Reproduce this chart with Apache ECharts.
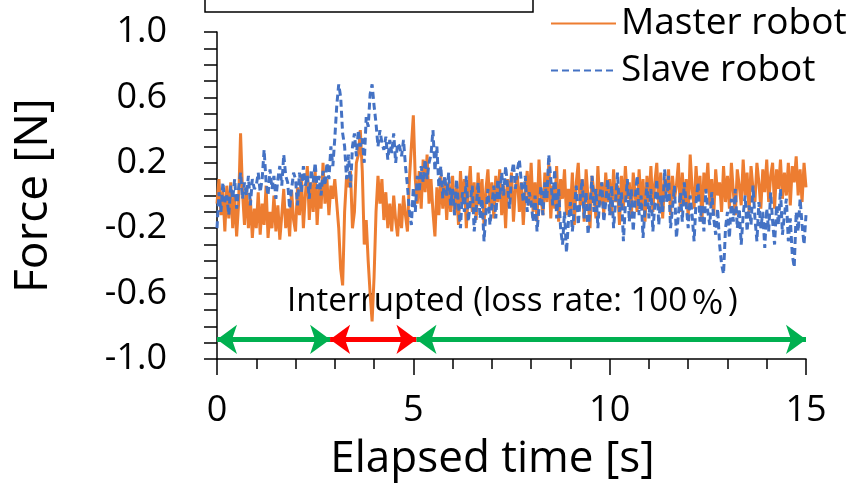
<!DOCTYPE html>
<html>
<head>
<meta charset="utf-8">
<script src="https://cdn.jsdelivr.net/npm/echarts@6/dist/echarts.min.js"></script>
<style>
  html, body { margin: 0; padding: 0; background: #fff; }
  #chart { width: 846px; height: 486px; }
</style>
</head>
<body>
<div id="chart"></div>
<script>
// both force signals are sampled every 0.05 s, one row = one second
var sampleStep = 0.05;

var masterForce = [
  -0.05, 0.10, -0.12, 0.03, -0.22, 0.06, -0.14, 0.08, -0.20, 0.00, -0.25, -0.05, 0.38, 0.02, -0.18, 0.05, -0.20, -0.02, -0.26, -0.08,
  -0.20, 0.02, -0.24, -0.05, -0.18, 0.06, -0.26, -0.10, -0.20, 0.00, -0.22, -0.06, -0.27, -0.12, 0.04, -0.20, -0.08, -0.25, 0.03, -0.15,
  -0.22, 0.05, -0.12, 0.12, -0.20, 0.00, 0.18, -0.15, 0.08, -0.10, 0.15, -0.18, 0.05, -0.08, 0.20, -0.05, 0.10, -0.12, 0.06, -0.02,
  0.10, -0.05, -0.20, -0.45, -0.55, -0.10, 0.12, 0.05, 0.15, -0.20, -0.10, 0.20, 0.25, 0.40, 0.15, -0.30, -0.15, -0.40, -0.60, -0.77,
  -0.50, -0.10, 0.12, -0.05, 0.10, -0.15, 0.02, -0.20, -0.05, -0.22, 0.00, -0.15, -0.25, -0.05, -0.20, 0.00, -0.12, -0.22, 0.10, 0.30,
  0.49, 0.10, -0.05, 0.15, -0.08, 0.22, 0.02, 0.25, -0.05, 0.10, -0.10, -0.25, 0.05, -0.12, 0.12, -0.08, 0.10, -0.15, 0.08, -0.10,
  0.12, -0.12, 0.05, -0.18, 0.15, -0.05, 0.10, -0.20, 0.02, 0.18, -0.10, 0.08, -0.15, 0.14, -0.06, 0.10, -0.18, 0.04, 0.16, -0.08,
  0.08, -0.14, 0.12, -0.04, 0.16, -0.12, 0.06, -0.20, 0.10, -0.02, 0.14, -0.16, 0.04, 0.12, -0.10, 0.08, -0.18, 0.02, 0.15, -0.06,
  0.20, -0.10, 0.08, -0.16, 0.22, 0.00, -0.12, 0.14, -0.04, 0.20, -0.14, 0.06, -0.08, 0.18, -0.16, 0.10, -0.02, 0.16, -0.12, 0.04,
  -0.10, 0.14, -0.18, 0.08, 0.20, -0.06, 0.10, -0.16, 0.16, -0.02, -0.20, 0.12, 0.02, -0.14, 0.18, -0.06, 0.08, -0.12, 0.14, -0.04,
  0.10, -0.12, 0.16, -0.04, 0.06, -0.18, 0.12, -0.08, 0.18, -0.02, 0.08, -0.14, 0.14, 0.00, -0.10, 0.16, -0.06, 0.10, -0.16, 0.12,
  -0.04, 0.18, -0.10, 0.08, 0.20, -0.08, 0.14, -0.14, 0.10, 0.02, 0.16, -0.12, 0.12, -0.02, 0.06, 0.20, -0.10, 0.14, -0.06, 0.10,
  -0.14, 0.25, 0.04, -0.08, 0.18, -0.02, 0.12, -0.16, 0.14, 0.02, 0.20, -0.06, 0.10, -0.12, 0.16, 0.00, 0.08, -0.10, 0.18, -0.04,
  0.12, -0.08, 0.20, 0.02, -0.12, 0.16, 0.06, -0.06, 0.22, 0.00, 0.14, -0.10, 0.18, 0.04, -0.04, 0.20, 0.08, -0.08, 0.16, 0.02,
  0.22, -0.04, 0.12, 0.20, -0.08, 0.16, 0.04, 0.22, -0.02, 0.14, 0.00, 0.20, -0.06, 0.18, 0.08, 0.24, 0.00, 0.16, -0.04, 0.20, 0.05
];

var slaveForce = [
  -0.20, 0.02, -0.10, 0.08, -0.04, 0.00, -0.12, 0.06, -0.02, 0.10, -0.08, 0.04, 0.14, -0.02, 0.08, 0.00, 0.12, -0.06, 0.10, 0.04,
  0.06, 0.14, 0.02, 0.10, 0.28, 0.08, 0.00, 0.16, 0.04, 0.12, -0.02, 0.10, 0.18, 0.06, 0.25, 0.12, 0.08, -0.08, 0.04, 0.14,
  0.10, -0.06, 0.14, 0.02, 0.18, 0.06, 0.12, -0.02, 0.16, 0.08, 0.20, 0.04, 0.12, 0.00, 0.15, 0.06, 0.20, 0.10, 0.30, 0.18,
  0.35, 0.55, 0.68, 0.60, 0.38, 0.30, 0.10, 0.25, 0.05, 0.30, 0.38, 0.24, 0.40, 0.30, 0.35, 0.20, 0.48, 0.42, 0.62, 0.68,
  0.55, 0.44, 0.30, 0.40, 0.32, 0.28, 0.36, 0.22, 0.34, 0.26, 0.38, 0.20, 0.32, 0.30, 0.24, 0.34, 0.18, 0.06, -0.10, -0.18,
  0.05, -0.10, 0.12, 0.02, 0.18, 0.08, 0.22, 0.10, 0.20, 0.25, 0.40, 0.15, 0.30, 0.05, 0.18, -0.02, 0.12, 0.00, 0.14, -0.06,
  0.04, -0.12, 0.10, -0.06, -0.20, 0.02, -0.10, 0.12, -0.16, -0.04, 0.06, -0.22, -0.08, 0.08, -0.14, -0.02, -0.28, -0.10, 0.04, -0.18,
  -0.06, 0.06, -0.14, 0.10, -0.02, 0.14, 0.00, 0.18, 0.06, -0.08, 0.12, 0.20, 0.04, 0.16, 0.22, 0.08, -0.04, 0.12, -0.10, 0.02,
  -0.04, -0.16, 0.00, -0.22, -0.08, 0.06, -0.12, 0.08, -0.02, 0.25, 0.10, -0.06, 0.16, -0.14, 0.04, -0.20, -0.30, -0.10, -0.35, -0.16,
  -0.04, -0.22, -0.08, 0.06, -0.18, -0.02, 0.10, -0.14, 0.02, -0.24, -0.06, 0.12, -0.10, 0.04, -0.20, 0.00, 0.08, -0.16, -0.04, 0.10,
  -0.12, 0.06, -0.20, -0.04, 0.14, -0.10, 0.02, -0.28, -0.06, 0.10, -0.16, 0.04, -0.22, -0.02, 0.12, -0.12, 0.00, -0.26, -0.08, 0.08,
  -0.14, 0.04, -0.22, -0.06, 0.10, -0.18, 0.00, -0.10, 0.16, -0.04, 0.12, -0.20, -0.08, 0.06, -0.26, -0.12, 0.02, -0.16, 0.08, -0.06,
  -0.20, 0.00, -0.12, -0.28, -0.04, 0.08, -0.16, -0.06, -0.22, 0.04, -0.10, -0.18, 0.02, -0.14, -0.24, -0.08, -0.30, -0.42, -0.48, -0.20,
  -0.10, -0.26, -0.02, -0.16, 0.04, -0.20, -0.08, -0.30, -0.12, 0.00, -0.22, -0.06, -0.18, 0.06, -0.14, -0.28, -0.04, -0.20, -0.10, -0.32,
  -0.08, -0.22, 0.02, -0.16, -0.30, -0.06, -0.18, 0.04, -0.24, -0.12, -0.02, -0.28, -0.14, -0.36, -0.44, -0.10, -0.22, -0.02, -0.18, -0.30, -0.12
];

// communication phases shown by the arrows under the curves
var phaseStart = [0, 2.88, 5.08];
var phaseEnd = [2.88, 5.08, 15];
var phaseColor = ['#00B050', '#FF0000', '#00B050'];
var phaseLevel = -0.88;

var seriesNames = ['Master robot', 'Slave robot'];

var fontMain = '"Open Sans", sans-serif';
var fontCjk = '"Noto Sans CJK JP", sans-serif';

function toPoints(arr) {
  return arr.map(function (v, i) { return [+(i * sampleStep).toFixed(2), v]; });
}

var chart = echarts.init(document.getElementById('chart'));

var arrowLines = phaseStart.map(function (s, i) {
  return [
    { coord: [s, phaseLevel], lineStyle: { color: phaseColor[i] } },
    { coord: [phaseEnd[i], phaseLevel] }
  ];
});

chart.setOption({
  animation: false,
  textStyle: { fontFamily: fontMain, color: '#000' },
  grid: { left: 217, top: 32, width: 589, height: 328, containLabel: false },
  legend: {
    data: seriesNames,
    orient: 'vertical',
    left: 545,
    top: 0,
    itemWidth: 65,
    itemHeight: 14,
    itemGap: 10,
    itemStyle: { opacity: 0, borderWidth: 0 },
    textStyle: { fontSize: 37, color: '#000', fontFamily: fontMain }
  },
  xAxis: {
    type: 'value',
    min: 0, max: 15, interval: 5,
    name: 'Elapsed time [s]',
    nameLocation: 'middle',
    nameGap: 78,
    nameTextStyle: { fontSize: 44, color: '#000', verticalAlign: 'top', padding: [0, 38, 0, 0] },
    axisLine: { onZero: false, lineStyle: { color: '#000', width: 1.5 } },
    axisTick: { length: 16, lineStyle: { color: '#000', width: 1.5 } },
    minorTick: { show: true, splitNumber: 5, length: 10, lineStyle: { color: '#000', width: 1.5 } },
    axisLabel: { fontSize: 36, color: '#000', margin: 34 },
    splitLine: { show: false }
  },
  yAxis: {
    type: 'value',
    min: -1, max: 1, interval: 0.4,
    name: 'Force [N]',
    nameLocation: 'middle',
    nameGap: 160,
    nameTextStyle: { fontSize: 46, color: '#000' },
    axisLine: { show: true, onZero: false, lineStyle: { color: '#000', width: 1.5 } },
    axisTick: { show: true, length: 13, lineStyle: { color: '#000', width: 1.5 } },
    minorTick: { show: true, splitNumber: 4, length: 13, lineStyle: { color: '#000', width: 1.5 } },
    axisLabel: { fontSize: 36, color: '#000', margin: 50, formatter: function (v) { return v.toFixed(1); } },
    splitLine: { show: false }
  },
  series: [
    {
      name: seriesNames[0],
      type: 'line',
      data: toPoints(masterForce),
      symbol: 'none',
      color: '#ED7D31',
      lineStyle: { width: 3, color: '#ED7D31' }
    },
    {
      name: seriesNames[1],
      type: 'line',
      data: toPoints(slaveForce),
      symbol: 'none',
      color: '#4472C4',
      lineStyle: { width: 3, color: '#4472C4', type: [7, 4] }
    },
    {
      name: 'phases',
      type: 'line',
      data: [],
      markLine: {
        silent: true,
        symbol: ['arrow', 'arrow'],
        symbolSize: [22, 20],
        label: { show: false },
        lineStyle: { width: 5, type: 'solid' },
        data: arrowLines
      }
    }
  ],
  graphic: [
    {
      type: 'rect',
      shape: { x: 205, y: -10, width: 328, height: 22 },
      style: { fill: '#fff', stroke: '#000', lineWidth: 1.5 }
    },
    {
      type: 'text',
      left: 287,
      top: 285,
      style: {
        text: '{a|Interrupted (loss rate: 100}{b|％}{a|)}',
        rich: {
          a: { fontFamily: fontMain, fontSize: 33, fill: '#000' },
          b: { fontFamily: fontCjk, fontSize: 33, fill: '#000', padding: [0, 4, 0, 4] }
        }
      }
    }
  ]
});
</script>
</body>
</html>
